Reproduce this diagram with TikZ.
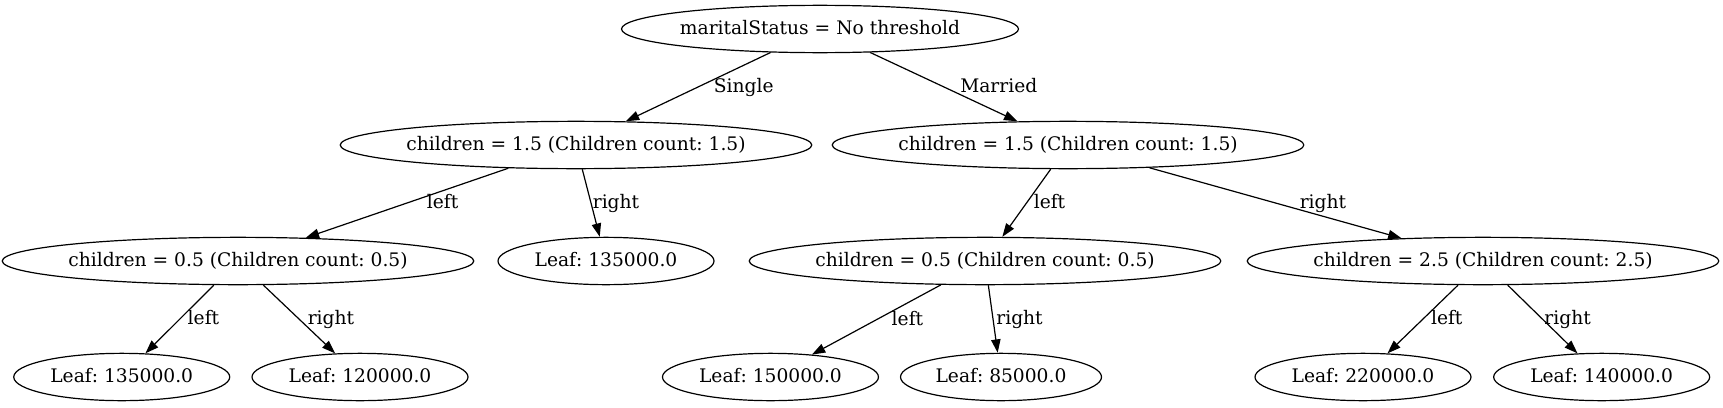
\documentclass[tikz,border=0pt]{standalone}
\usepackage{fontspec}
\setmainfont{DejaVu Serif}
\usetikzlibrary{shapes.geometric, arrows.meta, positioning}
\frenchspacing

\begin{document}
\begin{tikzpicture}[
    x=0.75pt, y=-0.75pt,
    node distance=87pt and 0pt, on grid,
    tnode/.style={ellipse, draw, line width=0.9pt, minimum width=#1, minimum height=35.5pt, inner xsep=-2.2pt, font=\fontsize{14}{16.8}\selectfont, text height=11.9pt, text depth=3.3pt},
    tnode/.default=162pt,
    arrow/.style={-{Triangle[length=10pt, width=7pt]}, line width=0.9pt},
    elabel/.style={midway, inner sep=0pt, font=\fontsize{14}{16.8}\selectfont, text height=11.9pt, text depth=3.3pt},
]
\useasboundingbox (0,0) rectangle (1723,407);

% Root
\node[tnode=297.75pt] (root) at (820,29) {maritalStatus = No threshold};

% First splits
\node[tnode=353.25pt, below left=87pt and 183pt of root] (single) {children = 1.5 (Children count: 1.5)};
\node[tnode=353.25pt, below right=87pt and 186pt of root] (married) {children = 1.5 (Children count: 1.5)};

% Second level
\node[tnode=353.25pt, below left=87pt and 253.5pt of single] (singleL) {children = 0.5 (Children count: 0.5)};
\node[tnode, below right=87pt and 22.5pt of single] (singleR) {Leaf: 135000.0};
\node[tnode=353.25pt, below left=87pt and 62.25pt of married] (marriedL) {children = 0.5 (Children count: 0.5)};
\node[tnode=353.25pt, below right=87pt and 311.25pt of married] (marriedR) {children = 2.5 (Children count: 2.5)};

% Leaves
\node[tnode, below left=87pt and 87.2pt of singleL] (leafA) {Leaf: 135000.0};
\node[tnode, below right=87pt and 91.5pt of singleL] (leafB) {Leaf: 120000.0};
\node[tnode, below left=87pt and 160.9pt of marriedL] (leafC) {Leaf: 150000.0};
\node[tnode=150.75pt, below right=87pt and 12pt of marriedL] (leafD) {Leaf: 85000.0};
\node[tnode, below left=87pt and 90pt of marriedR] (leafE) {Leaf: 220000.0};
\node[tnode, below right=87pt and 89pt of marriedR] (leafF) {Leaf: 140000.0};

\draw[arrow] (root) -- node[elabel, xshift=34.1pt] {Single} (single);
\draw[arrow] (root) -- node[elabel, xshift=41.25pt] {Married} (married);
\draw[arrow] (single) -- node[elabel, xshift=26.7pt] {left} (singleL);
\draw[arrow] (single) -- node[elabel, xshift=18.75pt] {right} (singleR);
\draw[arrow] (married) -- node[elabel, xshift=17.25pt] {left} (marriedL);
\draw[arrow] (married) -- node[elabel, xshift=35.6pt] {right} (marriedR);
\draw[arrow] (singleL) -- node[elabel, xshift=17.85pt] {left} (leafA);
\draw[arrow] (singleL) -- node[elabel, xshift=23.8pt] {right} (leafB);
\draw[arrow] (marriedL) -- node[elabel, xshift=23.25pt] {left} (leafC);
\draw[arrow] (marriedL) -- node[elabel, xshift=19.9pt] {right} (leafD);
\draw[arrow] (marriedR) -- node[elabel, xshift=18pt] {left} (leafE);
\draw[arrow] (marriedR) -- node[elabel, xshift=18.75pt] {right} (leafF);

\end{tikzpicture}
\end{document}
